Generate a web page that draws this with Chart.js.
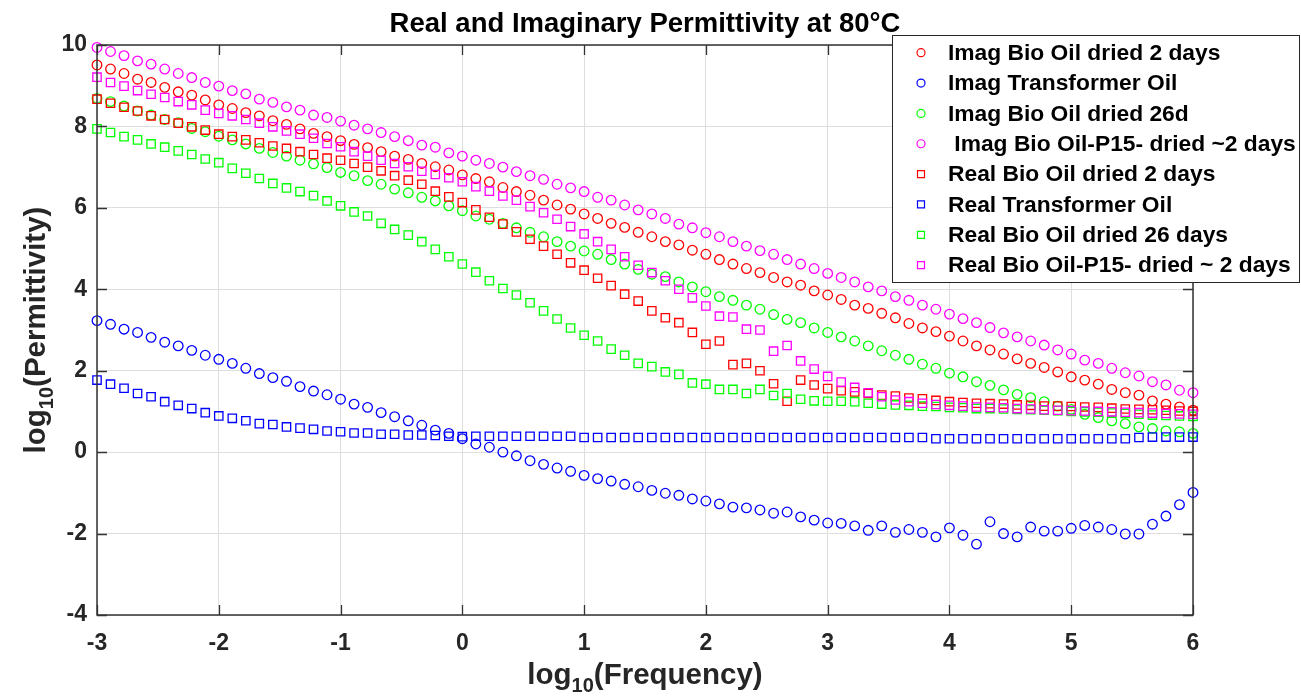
<!DOCTYPE html>
<html><head><meta charset="utf-8">
<script src="https://cdn.jsdelivr.net/npm/chart.js@4.4.1/dist/chart.umd.min.js"></script>
<style>html,body{margin:0;padding:0;background:#fff}#wrap{width:1301px;height:699px;position:relative}</style>
</head><body><div id="wrap"><canvas id="c"></canvas></div>
<script>
// log10(Frequency) sample positions
const logFreq = [
 -3,-2.889,-2.778,-2.667,-2.556,-2.444,-2.333,-2.222,-2.111,
 -2,-1.889,-1.778,-1.667,-1.556,-1.444,-1.333,-1.222,-1.111,
 -1,-0.889,-0.778,-0.667,-0.556,-0.444,-0.333,-0.222,-0.111,
 0,0.111,0.222,0.333,0.444,0.556,0.667,0.778,0.889,
 1,1.111,1.222,1.333,1.444,1.556,1.667,1.778,1.889,
 2,2.111,2.222,2.333,2.444,2.556,2.667,2.778,2.889,
 3,3.111,3.222,3.333,3.444,3.556,3.667,3.778,3.889,
 4,4.111,4.222,4.333,4.444,4.556,4.667,4.778,4.889,
 5,5.111,5.222,5.333,5.444,5.556,5.667,5.778,5.889,
 6];

const imagBio2d = [
 9.51,9.41,9.30,9.16,9.08,8.96,8.85,8.77,8.65,
 8.53,8.44,8.34,8.26,8.14,8.05,7.94,7.83,7.75,
 7.65,7.56,7.48,7.38,7.27,7.19,7.09,7.01,6.93,
 6.81,6.72,6.64,6.50,6.40,6.31,6.19,6.07,5.97,
 5.85,5.74,5.62,5.52,5.40,5.29,5.17,5.09,4.96,
 4.86,4.73,4.62,4.51,4.41,4.29,4.18,4.10,3.96,
 3.86,3.75,3.61,3.53,3.41,3.30,3.16,3.05,2.96,
 2.85,2.73,2.61,2.51,2.41,2.29,2.18,2.08,1.97,
 1.85,1.77,1.67,1.54,1.46,1.40,1.26,1.18,1.11,
 1.03];

const imagTransformer = [
 3.23,3.14,3.02,2.94,2.82,2.70,2.61,2.50,2.38,
 2.28,2.18,2.06,1.93,1.83,1.74,1.61,1.50,1.41,
 1.30,1.18,1.10,0.97,0.87,0.77,0.66,0.54,0.46,
 0.33,0.20,0.12,0.00,-0.09,-0.21,-0.30,-0.39,-0.47,
 -0.57,-0.65,-0.71,-0.79,-0.85,-0.94,-1.01,-1.06,-1.15,
 -1.20,-1.27,-1.35,-1.37,-1.42,-1.50,-1.47,-1.59,-1.67,
 -1.74,-1.75,-1.81,-1.92,-1.81,-1.97,-1.90,-1.97,-2.08,
 -1.86,-2.04,-2.26,-1.71,-2.00,-2.08,-1.84,-1.94,-1.94,
 -1.87,-1.80,-1.84,-1.90,-2.01,-2.01,-1.77,-1.57,-1.29,
 -0.99];

const imagBio26d = [
 8.69,8.61,8.50,8.38,8.28,8.17,8.09,7.95,7.87,
 7.76,7.67,7.57,7.46,7.36,7.27,7.17,7.08,6.99,
 6.87,6.79,6.67,6.58,6.46,6.37,6.26,6.17,6.05,
 5.93,5.80,5.72,5.62,5.51,5.40,5.29,5.17,5.06,
 4.94,4.86,4.73,4.62,4.49,4.37,4.31,4.18,4.06,
 3.94,3.82,3.73,3.61,3.51,3.38,3.26,3.18,3.05,
 2.94,2.83,2.73,2.61,2.49,2.38,2.28,2.16,2.06,
 1.94,1.85,1.73,1.64,1.53,1.42,1.34,1.24,1.13,
 1.05,0.93,0.85,0.77,0.70,0.62,0.58,0.52,0.50,
 0.46];

const imagBioP15 = [
 9.94,9.84,9.74,9.61,9.53,9.41,9.30,9.20,9.08,
 8.99,8.88,8.80,8.67,8.59,8.48,8.40,8.28,8.22,
 8.13,8.03,7.94,7.85,7.75,7.65,7.54,7.49,7.35,
 7.27,7.17,7.09,7.00,6.89,6.79,6.70,6.58,6.49,
 6.40,6.26,6.19,6.07,5.95,5.85,5.74,5.60,5.51,
 5.39,5.29,5.17,5.06,4.95,4.86,4.73,4.62,4.51,
 4.39,4.29,4.18,4.06,3.96,3.82,3.73,3.61,3.51,
 3.39,3.28,3.18,3.06,2.93,2.83,2.73,2.63,2.51,
 2.41,2.26,2.18,2.06,1.95,1.87,1.73,1.65,1.52,
 1.46];

const realBio2d = [
 8.67,8.57,8.47,8.38,8.26,8.17,8.08,7.99,7.91,
 7.81,7.75,7.67,7.60,7.52,7.46,7.38,7.31,7.22,
 7.17,7.09,7.00,6.91,6.79,6.68,6.58,6.41,6.27,
 6.13,5.95,5.77,5.60,5.41,5.23,5.06,4.86,4.65,
 4.47,4.27,4.09,3.88,3.71,3.47,3.30,3.18,2.94,
 2.65,2.73,2.15,2.18,2.00,1.68,1.25,1.77,1.65,
 1.56,1.51,1.48,1.44,1.40,1.38,1.33,1.31,1.27,
 1.24,1.22,1.20,1.19,1.18,1.16,1.15,1.13,1.13,
 1.12,1.11,1.10,1.08,1.06,1.05,1.04,1.03,1.01,
 1.00];

const realTransformer = [
 1.77,1.67,1.57,1.44,1.36,1.24,1.15,1.07,0.97,
 0.89,0.83,0.77,0.70,0.68,0.62,0.59,0.56,0.52,
 0.50,0.47,0.47,0.44,0.44,0.42,0.42,0.41,0.39,
 0.38,0.39,0.39,0.39,0.39,0.39,0.39,0.39,0.39,
 0.36,0.36,0.36,0.36,0.36,0.36,0.36,0.36,0.36,
 0.36,0.36,0.36,0.36,0.36,0.36,0.36,0.36,0.36,
 0.36,0.36,0.36,0.36,0.36,0.36,0.36,0.36,0.33,
 0.33,0.33,0.33,0.33,0.33,0.33,0.33,0.33,0.33,
 0.33,0.33,0.33,0.33,0.33,0.36,0.37,0.37,0.37,
 0.37];

const realBio26d = [
 7.94,7.85,7.75,7.67,7.57,7.49,7.40,7.31,7.20,
 7.11,6.97,6.85,6.72,6.60,6.49,6.40,6.30,6.17,
 6.05,5.90,5.80,5.62,5.47,5.33,5.17,4.98,4.80,
 4.62,4.42,4.21,4.02,3.86,3.67,3.47,3.27,3.05,
 2.87,2.73,2.53,2.38,2.18,2.10,1.97,1.91,1.70,
 1.67,1.54,1.54,1.44,1.54,1.39,1.44,1.30,1.26,
 1.25,1.25,1.24,1.20,1.18,1.16,1.15,1.13,1.12,
 1.10,1.09,1.07,1.07,1.06,1.05,1.04,1.03,1.02,
 1.00,0.99,0.98,0.96,0.95,0.93,0.91,0.90,0.89,
 0.88];

const realBioP15 = [
 9.21,9.08,8.99,8.88,8.79,8.71,8.61,8.53,8.40,
 8.32,8.26,8.17,8.08,7.99,7.89,7.81,7.71,7.58,
 7.50,7.38,7.27,7.17,7.09,7.01,6.90,6.82,6.74,
 6.64,6.52,6.41,6.29,6.19,6.03,5.88,5.72,5.54,
 5.36,5.17,4.98,4.80,4.59,4.41,4.21,4.00,3.79,
 3.59,3.34,3.32,3.02,3.00,2.48,2.62,2.24,2.04,
 1.86,1.72,1.59,1.46,1.36,1.28,1.24,1.20,1.17,
 1.15,1.13,1.11,1.10,1.09,1.07,1.06,1.04,1.03,
 1.02,1.01,1.00,0.99,0.98,0.97,0.96,0.95,0.94,
 0.93];

const seriesLabels = [
 'Imag Bio Oil dried 2 days',
 'Imag Transformer Oil',
 'Imag Bio Oil dried 26d',
 ' Imag Bio Oil-P15- dried ~2 days',
 'Real Bio Oil dried 2 days',
 'Real Transformer Oil',
 'Real Bio Oil dried 26 days',
 'Real Bio Oil-P15- dried ~ 2 days'];
const seriesData = [imagBio2d, imagTransformer, imagBio26d, imagBioP15, realBio2d, realTransformer, realBio26d, realBioP15];
const seriesColors = ['#ff0000','#0000ff','#00ff00','#ff00ff','#ff0000','#0000ff','#00ff00','#ff00ff'];
const seriesStyles = ['circle','circle','circle','circle','rect','rect','rect','rect'];

const xTickValues = [-3,-2,-1,0,1,2,3,4,5,6];
const yTickValues = [-4,-2,0,2,4,6,8,10];
const titleText = 'Real and Imaginary Permittivity at 80\u00B0C';

const FONT = "'Liberation Sans', Arial, Helvetica, sans-serif";
const AXIS_COLOR = '#333333';

function drawSubLabel(ctx, parts, cx, cy) {
  let total = 0;
  parts.forEach(p => { ctx.font = 'bold ' + p.size + 'px ' + FONT; p.w = ctx.measureText(p.t).width; total += p.w; });
  let x = cx - total / 2;
  ctx.textAlign = 'left';
  ctx.textBaseline = 'alphabetic';
  parts.forEach(p => { ctx.font = 'bold ' + p.size + 'px ' + FONT; ctx.fillText(p.t, x, cy + (p.dy || 0)); x += p.w; });
}

const deco = {
  id: 'deco',
  afterDraw(chart) {
    const ctx = chart.ctx;
    const a = chart.chartArea;
    const xs = chart.scales.x, ys = chart.scales.y;
    ctx.save();
    // frame
    ctx.strokeStyle = AXIS_COLOR;
    ctx.lineWidth = 1.5;
    ctx.strokeRect(a.left, a.top, a.right - a.left, a.bottom - a.top);
    // inward ticks
    ctx.beginPath();
    const tl = 10;
    xTickValues.forEach(v => {
      const px = Math.round(xs.getPixelForValue(v)) + 0.5;
      ctx.moveTo(px, a.bottom); ctx.lineTo(px, a.bottom - tl);
      ctx.moveTo(px, a.top); ctx.lineTo(px, a.top + tl);
    });
    yTickValues.forEach(v => {
      const py = Math.round(ys.getPixelForValue(v)) + 0.5;
      ctx.moveTo(a.left, py); ctx.lineTo(a.left + tl, py);
      ctx.moveTo(a.right, py); ctx.lineTo(a.right - tl, py);
    });
    ctx.lineWidth = 1.3;
    ctx.stroke();

    // legend
    const lx = 892.5, ly = 35.5, lw = 407, lh = 247;
    ctx.fillStyle = '#ffffff';
    ctx.fillRect(lx, ly, lw, lh);
    ctx.strokeStyle = '#262626';
    ctx.lineWidth = 1;
    ctx.strokeRect(lx, ly, lw, lh);
    seriesLabels.forEach((lab, k) => {
      const ry = 52.7 + 30.35 * k;
      ctx.strokeStyle = seriesColors[k];
      ctx.lineWidth = 1.2;
      ctx.beginPath();
      if (seriesStyles[k] === 'circle') ctx.arc(921, ry, 4, 0, Math.PI * 2);
      else ctx.rect(917.5, ry - 3.5, 7, 7);
      ctx.stroke();
      ctx.fillStyle = '#000000';
      ctx.font = 'bold 22.8px ' + FONT;
      ctx.textAlign = 'left';
      ctx.textBaseline = 'middle';
      ctx.fillText(lab, 948, ry + 1);
    });

    // title
    ctx.fillStyle = '#000000';
    ctx.font = 'bold 27.5px ' + FONT;
    ctx.textAlign = 'center';
    ctx.textBaseline = 'alphabetic';
    ctx.fillText(titleText, (a.left + a.right) / 2, 32);

    // axis titles
    ctx.fillStyle = '#262626';
    drawSubLabel(ctx, [{t:'log', size:29.5}, {t:'10', size:20, dy:8}, {t:'(Frequency)', size:29.5}], (a.left + a.right) / 2, 684);
    ctx.save();
    ctx.translate(45, (a.top + a.bottom) / 2);
    ctx.rotate(-Math.PI / 2);
    drawSubLabel(ctx, [{t:'log', size:29.5}, {t:'10', size:20, dy:8}, {t:'(Permittivity)', size:29.5}], 0, 0);
    ctx.restore();
    ctx.restore();
  }
};

const datasets = seriesData.map((arr, i) => ({
  label: seriesLabels[i],
  data: logFreq.map((x, k) => ({x: x, y: arr[k]})),
  showLine: false,
  pointStyle: seriesStyles[i],
  pointRadius: seriesStyles[i] === 'circle' ? 4.8 : 5.9,
  pointHoverRadius: seriesStyles[i] === 'circle' ? 4.8 : 5.9,
  pointBorderWidth: 1.3,
  pointBorderColor: seriesColors[i],
  pointBackgroundColor: 'rgba(0,0,0,0)',
  borderColor: seriesColors[i],
  backgroundColor: 'rgba(0,0,0,0)',
  order: 7 - i,
  clip: false
}));

const tickFont = {family: FONT, size: 23, weight: 'bold'};

new Chart(document.getElementById('c'), {
  type: 'scatter',
  data: {datasets},
  options: {
    responsive: true,
    maintainAspectRatio: false,
    animation: false,
    events: [],
    layout: {padding: {top: 45, right: 108, bottom: 0, left: 0}},
    plugins: {legend: {display: false}, title: {display: false}, tooltip: {enabled: false}},
    scales: {
      x: {
        type: 'linear', min: -3, max: 6,
        afterBuildTicks(s) { s.ticks = xTickValues.map(v => ({value: v})); },
        afterFit(s) { s.height = 84; },
        ticks: {font: tickFont, color: '#262626', padding: 15, maxRotation: 0, autoSkip: false},
        grid: {color: '#dedede', lineWidth: 1, drawTicks: false},
        border: {display: false}
      },
      y: {
        type: 'linear', min: -4, max: 10,
        afterBuildTicks(s) { s.ticks = yTickValues.map(v => ({value: v})); },
        afterFit(s) { s.width = 97; },
        ticks: {font: tickFont, color: '#262626', padding: 10},
        grid: {color: '#dedede', lineWidth: 1, drawTicks: false},
        border: {display: false}
      }
    }
  },
  plugins: [deco]
});
</script>
</body></html>
